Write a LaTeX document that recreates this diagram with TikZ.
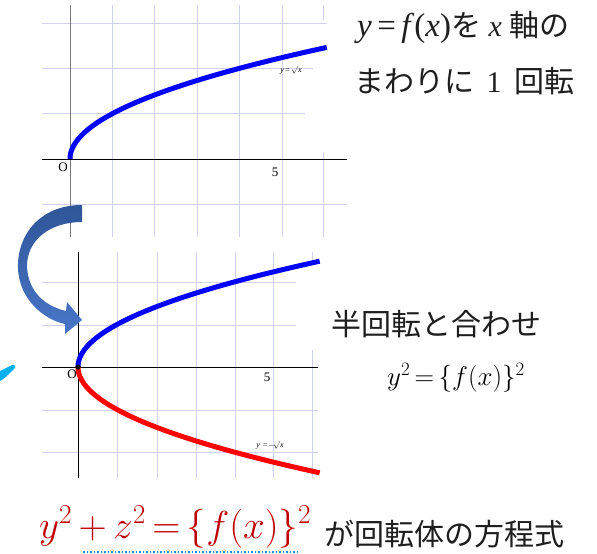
\RequirePackage{fix-cm}
\documentclass[tikz,border=0pt]{standalone}
\usepackage{fontspec}
\setmainfont{Liberation Serif}
\newfontfamily\jp{Noto Sans CJK JP}
\newcommand\mi[1]{\textit{#1}}
\definecolor{gridc}{RGB}{208,208,242}
\definecolor{axgray}{RGB}{120,120,120}
\definecolor{darkred}{RGB}{192,0,0}
\definecolor{arrdark}{RGB}{47,85,151}
\definecolor{arrlight}{RGB}{72,118,200}
\definecolor{cyanc}{RGB}{0,176,240}
\definecolor{txt}{RGB}{30,30,30}
\tikzset{
  gridline/.style={gridc, line width=0.9pt},
  axisline/.style={black, line width=0.8pt},
  curveb/.style={blue, line width=5pt},
  curver/.style={red, line width=5pt},
  lbl/.style={inner sep=0pt, font=\fontsize{13}{15}\selectfont},
  tinylbl/.style={inner sep=0pt, font=\fontsize{8}{9}\selectfont},
  jtext/.style={inner sep=0pt, anchor=base west, text=txt, font=\fontsize{30}{36}\selectfont},
}
\begin{document}
\begin{tikzpicture}[x=1pt,y=-1pt]
\useasboundingbox (0,0) rectangle (597,554);
% ---------- top graph ----------
\foreach \yy/\xe in {23/327,68/313,113/305,204/347}
  \draw[gridline] (42,\yy) -- (\xe,\yy);
\foreach \xx in {112,154,197,239,282}
  \draw[gridline] (\xx,5) -- (\xx,237);
\draw[gridline] (323,5) -- (323,20);
\draw[gridline] (323,152) -- (323,237);
\draw[axgray, line width=0.8pt] (70,5) -- (70,237);
\draw[axisline] (42,159) -- (347,159);
\draw[curveb] plot[domain=0:2.465, samples=80, smooth, variable=\s] ({70+42.3*\s*\s},{159-45.3*\s});
\node[lbl] (o1) at (63,167) {O};
\node[lbl] (f1) at (275,172) {5};
\node[tinylbl] (l1) at (291,70) {\mi{y}\,=\,$\surd$\mi{x}};
% ---------- bottom graph ----------
\foreach \yy/\xe in {282/296,325/296,410/318,452/318}
  \draw[gridline] (42,\yy) -- (\xe,\yy);
\foreach \xx in {117,157,196,235,273}
  \draw[gridline] (\xx,252) -- (\xx,478);
\draw[gridline] (312,252) -- (312,262);
\draw[gridline] (312,350) -- (312,478);
\draw[axisline] (78,252) -- (78,478);
\draw[axisline] (42,367) -- (318,367);
\draw[curveb] plot[domain=0:2.49, samples=80, smooth, variable=\s] ({78+39*\s*\s},{367-42.5*\s});
\draw[curver] plot[domain=0:2.49, samples=80, smooth, variable=\s] ({78+39*\s*\s},{367+42.5*\s});
\fill[black] (78,367) circle (2.6);
\node[lbl] (o2) at (72,374) {O};
\node[lbl] (f2) at (267,377) {5};
\node[tinylbl] (l2) at (270,445) {\mi{y} \,=\,\textendash$\surd$\mi{x}};
% ---------- curved arrow ----------
\shade[top color=arrdark, bottom color=arrlight]
  (82,205) .. controls (40,205) and (17,235) .. (18,268)
  .. controls (19,300) and (45,320) .. (65,324)
  -- (65,334) -- (82,320) -- (67,302) -- (66,311)
  .. controls (45,306) and (28,292) .. (27,266)
  .. controls (27,240) and (50,222) .. (82,222) -- cycle;
% ---------- cyan fragment ----------
\fill[cyanc] (0,371) -- (12,365) .. controls (16,364) and (16,368) .. (13,370)
  .. controls (8,375) and (4,379) .. (0,381) -- cycle;
% ---------- texts ----------
\node[jtext] (t1) at (357,36) {{\fontsize{33}{36}\selectfont\mi{y}\,=\,\mi{f}(\mi{x})}{\jp を} \mi{x} {\jp 軸の}};
\node[jtext] (t2) at (354,92) {{\jp まわりに}\, 1 \,{\jp 回転}};
\node[jtext] (t3) at (331,335) {\jp 半回転と合わせ};
\node[jtext, text=black, font=\fontsize{27}{34}\selectfont] (t4) at (387,385) {$y^2\,{=}\,\{f(x)\}^2$};
\node[jtext, text=darkred, font=\fontsize{39}{48}\selectfont] (t5) at (39,538) {$y^2\,{+}\,z^2\,{=}\,\{f(x)\}^2$};
\node[jtext] (t6) at (324,545) {\jp が回転体の方程式};
\draw[cyanc!80!blue, line width=1.5pt, dotted] (83,552) -- (300,552);
\end{tikzpicture}
\end{document}
